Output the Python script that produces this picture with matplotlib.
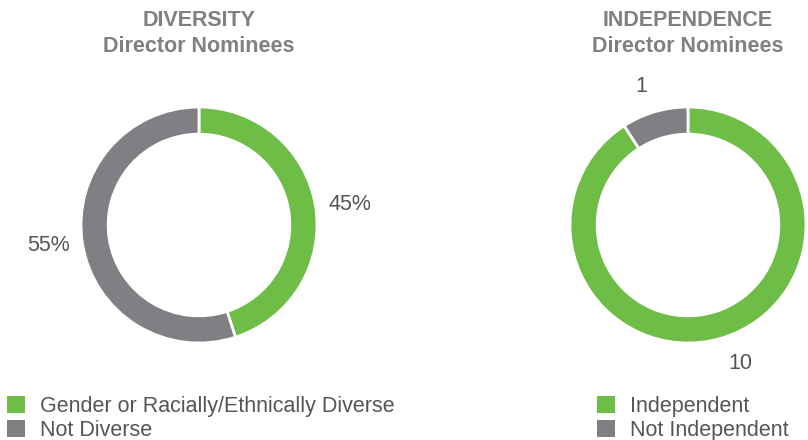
import matplotlib.pyplot as plt
from matplotlib.patches import Patch

plt.rcParams['font.family'] = ['Liberation Sans', 'DejaVu Sans']

green = '#6dbd46'
grey = '#807f84'
title_col = '#808080'
text_col = '#555555'

div_labels = ['Gender or Racially/Ethnically Diverse', 'Not Diverse']
div_values = [45, 55]
div_text = ['45%', '55%']

ind_labels = ['Independent', 'Not Independent']
ind_values = [10, 1]
ind_text = ['10', '1']

W, H = 808, 440
fig = plt.figure(figsize=(W / 100, H / 100), dpi=100)


def donut(cx, cy, r, values, texts, title, labels, leg_x, ldist):
    ax = fig.add_axes([(cx - r) / W, (H - cy - r) / H, 2 * r / W, 2 * r / H])
    wedges, txts = ax.pie(values, colors=[green, grey], startangle=90,
                          counterclock=False, labels=texts, labeldistance=ldist,
                          wedgeprops=dict(width=0.23, edgecolor='white', linewidth=2),
                          textprops=dict(fontsize=15.5, color=text_col))
    ax.set_xlim(-1, 1)
    ax.set_ylim(-1, 1)
    ax.set_aspect('equal')
    for t in txts:
        t.set_clip_on(False)
    fig.text(cx / W, 1 - 20 / H, title, ha='center', va='center',
             fontsize=15.5, fontweight='bold', color=title_col)
    fig.text(cx / W, 1 - 47 / H, 'Director Nominees', ha='center', va='center',
             fontsize=15.5, fontweight='bold', color=title_col)
    handles = [Patch(facecolor=green), Patch(facecolor=grey)]
    fig.legend(handles, labels, loc='upper left',
               bbox_to_anchor=(leg_x / W, 1 - 396 / H), frameon=False,
               fontsize=15.5, labelcolor=text_col, handlelength=0.85,
               handleheight=0.85, handletextpad=0.7, labelspacing=0.12,
               borderpad=0, borderaxespad=0)


donut(199, 225, 118, div_values, div_text, 'DIVERSITY', div_labels, 7, 1.11)
donut(688, 225, 118, ind_values, ind_text, 'INDEPENDENCE', ind_labels, 597, 1.22)

fig.savefig('out.png', dpi=100)
